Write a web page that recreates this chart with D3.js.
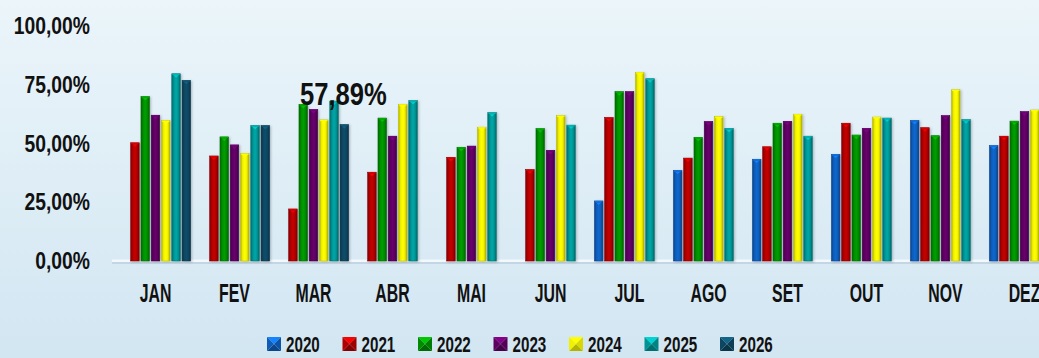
<!DOCTYPE html>
<html>
<head>
<meta charset="utf-8">
<script src="https://cdn.jsdelivr.net/npm/d3@7"></script>
<style>
  html, body { margin: 0; padding: 0; overflow: hidden; }
  body { width: 1039px; height: 358px; }
  text { font-family: "Liberation Sans", Arial, sans-serif; font-weight: bold; fill: #111; }
</style>
</head>
<body>
<svg id="chart" width="1039" height="358"></svg>
<script>
// Monthly percentages per year
const months = ["JAN","FEV","MAR","ABR","MAI","JUN","JUL","AGO","SET","OUT","NOV","DEZ"];
const years = ["2020","2021","2022","2023","2024","2025","2026"];
const y2020 = [null, null, null, null, null, null, 25.5, 38.5, 43.2, 45.3, 59.7, 49.0];
const y2021 = [50.2, 44.6, 22.1, 37.7, 44.0, 38.8, 60.9, 43.7, 48.5, 58.5, 56.6, 53.0];
const y2022 = [69.8, 52.7, 66.5, 60.7, 48.3, 56.2, 71.9, 52.5, 58.5, 53.5, 53.2, 59.4];
const y2023 = [61.9, 49.3, 64.3, 53.0, 48.8, 47.0, 71.9, 59.2, 59.3, 56.3, 61.7, 63.4];
const y2024 = [59.6, 45.6, 59.9, 66.5, 56.8, 61.7, 80.1, 61.3, 62.3, 61.1, 72.7, 64.1];
const y2025 = [79.5, 57.5, 67.9, 68.1, 63.0, 57.7, 77.4, 56.3, 53.0, 60.7, 60.0, null];
const y2026 = [76.7, 57.5, 57.89, null, null, null, null, null, null, null, null, null];
const yTicks = [0, 25, 50, 75, 100];
const colors = ["#0e5cb8", "#b00000", "#008c00", "#5c0060", "#f0f000", "#009494", "#0d4660"];
// Highlighted value label
const labelYear = "2026", labelMonth = "MAR";

const series = [y2020, y2021, y2022, y2023, y2024, y2025, y2026];
const svg = d3.select("#chart");
const defs = svg.append("defs");

// background
const bg = defs.append("linearGradient").attr("id", "bg").attr("x1", 0).attr("y1", 0).attr("x2", 0).attr("y2", 1);
bg.append("stop").attr("offset", 0).attr("stop-color", "#ebf5fa");
bg.append("stop").attr("offset", 1).attr("stop-color", "#d2e6f2");
svg.append("rect").attr("width", 1039).attr("height", 358).attr("fill", "url(#bg)");

// glossy bar gradients
colors.forEach((c, i) => {
  const base = d3.color(c);
  const g = defs.append("linearGradient").attr("id", "bar" + i).attr("x1", 0).attr("x2", 1).attr("y1", 0).attr("y2", 0);
  g.append("stop").attr("offset", 0).attr("stop-color", base.darker(0.9));
  g.append("stop").attr("offset", 0.25).attr("stop-color", base);
  g.append("stop").attr("offset", 0.5).attr("stop-color", base.brighter(0.35));
  g.append("stop").attr("offset", 0.75).attr("stop-color", base);
  g.append("stop").attr("offset", 1).attr("stop-color", base.darker(1.1));
});
const sh = defs.append("filter").attr("id", "shadow").attr("x", "-50%").attr("y", "-10%").attr("width", "200%").attr("height", "120%");
sh.append("feDropShadow").attr("dx", 1.2).attr("dy", 0.8).attr("stdDeviation", 1).attr("flood-color", "#404a55").attr("flood-opacity", 0.35);

const x0 = d3.scaleBand().domain(months).range([116, 1064]).paddingInner(0.09).paddingOuter(0.045);
const x1 = d3.scaleBand().domain(years).range([0, x0.bandwidth()]).paddingInner(0.17).paddingOuter(0.085);
const y = d3.scaleLinear().domain([0, 100]).range([261, 25.5]);

// floor line
svg.append("rect").attr("x", 112).attr("y", 262).attr("width", 940).attr("height", 2).attr("fill", "#9fb3c2").attr("opacity", 0.35);
svg.append("rect").attr("x", 112).attr("y", 259.5).attr("width", 940).attr("height", 2.5).attr("fill", "#f2f8fc");

// y axis labels (condensed lettering)
const fmtPct = v => d3.format(".2f")(v).replace(".", ",") + "%";
svg.append("g").selectAll("text").data(yTicks).join("text")
  .attr("transform", d => `translate(90,${y(d)}) scale(0.84,1)`)
  .attr("dy", "0.36em")
  .attr("text-anchor", "end").attr("font-size", 23)
  .text(fmtPct);

// bars
const flat = [];
months.forEach((m, mi) => years.forEach((yr, yi) => {
  const v = series[yi][mi];
  if (v != null) flat.push({ m, yr, yi, v });
}));
const bars = svg.append("g").selectAll("g").data(flat).join("g")
  .attr("transform", d => `translate(${x0(d.m) + x1(d.yr)},0)`);
bars.append("rect")
  .attr("x", 0).attr("y", d => y(d.v)).attr("width", x1.bandwidth()).attr("height", d => y(0) - y(d.v))
  .attr("fill", d => `url(#bar${d.yi})`)
  .attr("stroke", d => d3.color(colors[d.yi]).darker(0.6)).attr("stroke-width", 0.6)
  .attr("filter", "url(#shadow)");
// small pyramid cap at each bar top
bars.append("path")
  .attr("d", d => {
    const w = x1.bandwidth(), t = y(d.v);
    return `M${w / 2 - 2.5},${t + 1.5} L${w / 2 + 2.5},${t + 1.5} L${w / 2},${t + 4} Z`;
  })
  .attr("fill", d => d3.color(colors[d.yi]).brighter(0.9));
bars.append("rect")
  .attr("x", 0.6).attr("y", d => y(d.v)).attr("width", x1.bandwidth() - 1.2).attr("height", 1.3)
  .attr("fill", d => d3.color(colors[d.yi]).brighter(0.6));

// month labels
svg.append("g").selectAll("text").data(months).join("text")
  .attr("transform", d => `translate(${x0(d) + x0.bandwidth() / 2},302) scale(0.61,1)`)
  .attr("text-anchor", "middle").attr("font-size", 26)
  .text(d => d);

// value label
const li = years.indexOf(labelYear), mi = months.indexOf(labelMonth);
const lv = series[li][mi];
svg.append("text")
  .attr("transform", `translate(${x0(labelMonth) + x1(labelYear) + x1.bandwidth() / 2 - 1},${y(lv) - 20}) scale(0.8,1)`)
  .attr("text-anchor", "middle").attr("font-size", 32)
  .text(fmtPct(lv));

// legend
const legend = svg.append("g").selectAll("g").data(years).join("g")
  .attr("transform", (d, i) => `translate(${267 + i * 75.5},337)`);
const s = 14, hs = 7;
const tri = [
  { d: `M0,0 L${s},0 L${hs},${hs} Z`, k: 1.0 },
  { d: `M0,${s} L${s},${s} L${hs},${hs} Z`, k: -0.8 },
  { d: `M0,0 L0,${s} L${hs},${hs} Z`, k: 0 },
  { d: `M${s},0 L${s},${s} L${hs},${hs} Z`, k: -0.3 }
];
legend.each(function (d, i) {
  const c = d3.color(colors[i]);
  const g = d3.select(this);
  tri.forEach(t => g.append("path").attr("d", t.d)
    .attr("fill", t.k > 0 ? c.brighter(t.k) : c.darker(-t.k)));
});
legend.append("text")
  .attr("transform", `translate(19,15) scale(0.69,1)`)
  .attr("font-size", 22)
  .text(d => d);
</script>
</body>
</html>
